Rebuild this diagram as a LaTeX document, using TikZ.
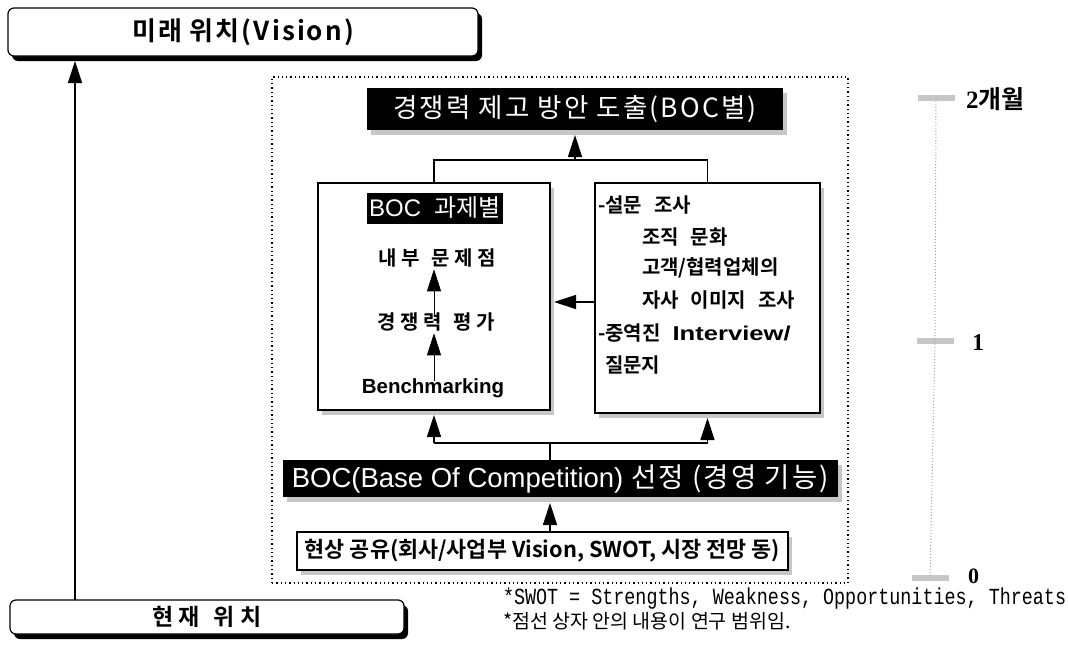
\documentclass[tikz,border=0pt]{standalone}
\usepackage{fontspec}
\usetikzlibrary{arrows.meta,shadows}
\setmainfont{Liberation Sans}
\newfontfamily\kr{Noto Sans CJK KR}[BoldFont={Noto Sans CJK KR Bold}]
\newfontfamily\krw{Noto Sans CJK KR}[BoldFont={Noto Sans CJK KR Bold}, LetterSpace=22]
\newfontfamily\krm{Noto Sans CJK KR}[BoldFont={Noto Sans CJK KR Bold}, LetterSpace=8]
\newfontfamily\latw{Liberation Sans}[FakeStretch=1.28]
\newfontfamily\tserif{Liberation Serif}
\newfontfamily\fnmono{Liberation Mono}[FakeStretch=0.8]
\newcommand{\fsz}[1]{\fontsize{#1}{#1}\selectfont}
\newcommand{\wsp}{\hspace{0.6em}}
\begin{document}
\begin{tikzpicture}[x=1pt,y=-1pt,
  every node/.style={inner sep=0pt, outer sep=0pt},
  plainbox/.style={draw=black, line width=1.2pt, fill=white},
  blackbox/.style={fill=black, text=white},
  greyshadow/.style={drop shadow={shadow xshift=4pt, shadow yshift=-5pt, fill=gray!45, opacity=1}},
  blackshadow/.style={general shadow={shadow xshift=4pt, shadow yshift=-5pt, fill=black}},
  arr/.style={-{Triangle[length=22pt,width=14pt]}, line width=1.3pt},
  smallarr/.style={-{Triangle[length=22pt,width=14pt]}, line width=1pt},
  wire/.style={line width=1.2pt},
  kbold/.style={font=\bfseries\kr\fsz{#1}},
  kwide/.style={font=\bfseries\krw\fsz{#1}},
  tick/.style={fill=gray!45, minimum width=37pt, minimum height=6pt},
]
\useasboundingbox (0,0) rectangle (1068,659);
\fill[white] (0,0) rectangle (1068,659);

% outer vision / present boxes
\node[plainbox, rounded corners=6pt, blackshadow, minimum width=470pt, minimum height=48pt, font=\bfseries\krm\fsz{26}] (vis) at (243,32) {미래 위치(Vision)};
\node[plainbox, rounded corners=6pt, blackshadow, minimum width=394pt, minimum height=34pt, kwide=23] (now) at (207,617) {현재\wsp 위치};
\draw[arr] (now.north -| 75,0) -- ([yshift=-5pt]vis.south -| 75,0);

% dotted research scope
\node[draw, line width=1.2pt, dash pattern=on 1.3pt off 3pt, minimum width=576pt, minimum height=506pt] (scope) at (560,330) {};

% top result box
\node[blackbox, greyshadow, minimum width=416pt, minimum height=42pt, font=\krm\fsz{26.5}] (goal) at (575,109) {경쟁력 제고 방안 도출(BOC별)};

% left box
\node[plainbox, greyshadow, minimum width=232pt, minimum height=227pt] (lbox) at (434,296.5) {};
\node[blackbox, minimum width=136pt, minimum height=31pt, font=\fsz{24}] (boctask) at (435,208) {BOC\ \ {\kr 과제별}};
\node[kwide=20] (prob) at (437,258) {내부\wsp 문제점};
\node[kwide=20] (eval) at (436,322) {경쟁력\wsp 평가};
\node[font=\bfseries\fsz{20.5}] (bench) at (433,388) {Benchmarking};
\draw[smallarr] ([yshift=-3pt]eval.north -| 434,0) -- ([yshift=-2pt]prob.south -| 434,0);
\draw[smallarr] ([yshift=-3pt]bench.north -| 434,0) -- ([yshift=-2pt]eval.south -| 434,0);

% right box
\node[plainbox, greyshadow, minimum width=225pt, minimum height=230pt] (rbox) at (707.5,298) {};
\node[kbold=20, anchor=west] (r1) at (598,205) {-설문\wsp 조사};
\node[kbold=20, anchor=west] (r2) at (642,237) {조직\wsp 문화};
\node[kbold=20, anchor=west] (r3) at (642,268) {고객/협력업체의};
\node[kbold=20, anchor=west] (r4) at (642,300) {자사\wsp 이미지\wsp 조사};
\node[kbold=20, anchor=west] (r5) at (598,333) {-중역진\wsp{\latw Interview/}};
\node[kbold=20, anchor=west] (r6) at (605,365) {질문지};

\draw[arr] (rbox.west |- 0,302) -- ([xshift=4pt]lbox.east |- 0,302);

% tree to goal
\coordinate (j1) at (575,160);
\draw[wire] (lbox.north) -- (lbox.north |- j1) -- (rbox.north |- j1) -- (rbox.north);
\draw[arr] (j1) -- ([yshift=-5pt]goal.south);

% BOC selection
\node[blackbox, greyshadow, minimum width=555pt, minimum height=37pt, font=\fsz{27.5}] (boc) at (560.5,478.5) {BOC(Base Of Competition) {\krm 선정 (경영 기능)}};
\coordinate (j2) at (550,443);
\draw[wire] (boc.north -| j2) -- (j2);
\draw[wire] (lbox.south |- j2) -- (rbox.south |- j2);
\draw[arr] (lbox.south |- j2) -- ([yshift=-5pt]lbox.south);
\draw[arr] (rbox.south |- j2) -- ([yshift=-5pt]rbox.south);

% current state sharing
\node[plainbox, greyshadow, minimum width=491pt, minimum height=38pt, font=\bfseries\kr\fsz{21.8}] (cur) at (542.5,551) {현상 공유(회사/사업부 Vision, SWOT, 시장 전망 동)};
\draw[arr] (cur.north -| j2) -- ([yshift=-6pt]boc.south -| j2);

% timeline
\node[tick] (tk2) at (936,98) {};
\node[tick] (tk1) at (935,341) {};
\node[tick] (tk0) at (930,578) {};
\draw[gray!70, line width=1pt, dash pattern=on 1pt off 2pt] (tk2.center) -- (tk1.center) -- (tk0.center);
\node[anchor=west, font=\bfseries\fsz{25}] (l2) at (966,99) {{\tserif 2}{\kr 개월}};
\node[anchor=west, font=\bfseries\tserif\fsz{24}] (l1) at (972,343) {1};
\node[anchor=west, font=\bfseries\tserif\fsz{22}] (l0) at (968,576) {0};

% footnotes
\node[anchor=west, font=\fnmono\fsz{23}] (fn1) at (503,599) {*SWOT = Strengths, Weakness, Opportunities, Threats};
\node[anchor=west, font=\kr\fsz{19.5}] (fn2) at (503,621) {*점선 상자 안의 내용이 연구 범위임.};
\end{tikzpicture}
\end{document}
